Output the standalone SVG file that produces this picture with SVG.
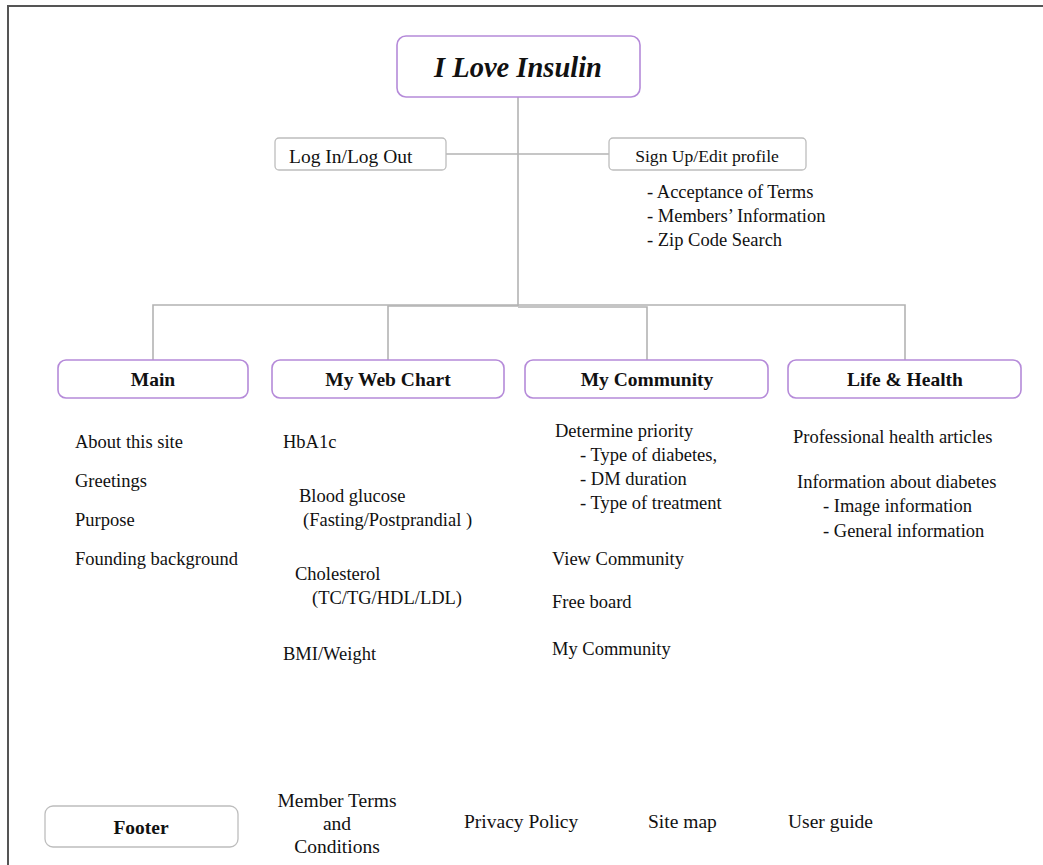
<svg xmlns="http://www.w3.org/2000/svg" width="1043" height="865" viewBox="0 0 1043 865">
<style>
text{font-family:"Liberation Serif","Times New Roman",serif;fill:#111;}
.t{font-size:18.5px;}
.b{font-size:19.5px;font-weight:bold;}
.f{font-size:19.5px;}
.pbox{fill:#fff;stroke:#b58ad9;stroke-width:1.6;}
.gbox{fill:#fff;stroke:#bdbdbd;stroke-width:1.3;}
.conn{fill:none;stroke:#b3b3b3;stroke-width:1.6;}
</style>
<path d="M8 870 V6 H1050" fill="none" stroke="#555" stroke-width="2"/>
<g id="connectors">
<path class="conn" d="M518 97 V306"/>
<path class="conn" d="M446 154 H609"/>
<path class="conn" d="M153 360 V305 H905 V360"/>
<path class="conn" d="M388 360 V306 H518"/>
<path class="conn" d="M518 307 H647 V360"/>
</g>
<g id="title">
<rect class="pbox" x="397" y="36" width="243" height="61" rx="9"/>
<text x="518" y="77" text-anchor="middle" style="font-size:28.5px;font-weight:bold;font-style:italic">I Love Insulin</text>
</g>
<g id="login">
<rect class="gbox" x="275" y="138" width="171" height="32" rx="4"/>
<text class="t" x="289" y="163" style="font-size:19.5px">Log In/Log Out</text>
</g>
<g id="signup">
<rect class="gbox" x="609" y="138" width="197" height="32" rx="4"/>
<text x="707" y="162" text-anchor="middle" style="font-size:17.6px">Sign Up/Edit profile</text>
<text class="t" x="647" y="198">- Acceptance of Terms</text>
<text class="t" x="647" y="222">- Members’ Information</text>
<text class="t" x="647" y="246">- Zip Code Search</text>
</g>
<g id="main">
<rect class="pbox" x="58" y="360" width="190" height="38" rx="8"/>
<text class="b" x="153" y="386" text-anchor="middle">Main</text>
<text class="t" x="75" y="448">About this site</text>
<text class="t" x="75" y="487">Greetings</text>
<text class="t" x="75" y="526">Purpose</text>
<text class="t" x="75" y="565">Founding background</text>
</g>
<g id="webchart">
<rect class="pbox" x="272" y="360" width="232" height="38" rx="8"/>
<text class="b" x="388" y="386" text-anchor="middle">My Web Chart</text>
<text class="t" x="283" y="448">HbA1c</text>
<text class="t" x="299" y="502">Blood glucose</text>
<text class="t" x="303" y="526">(Fasting/Postprandial )</text>
<text class="t" x="295" y="580">Cholesterol</text>
<text class="t" x="312" y="604">(TC/TG/HDL/LDL)</text>
<text class="t" x="283" y="660">BMI/Weight</text>
</g>
<g id="community">
<rect class="pbox" x="525" y="360" width="243" height="38" rx="8"/>
<text class="b" x="647" y="386" text-anchor="middle">My Community</text>
<text class="t" x="555" y="437">Determine priority</text>
<text class="t" x="580" y="461">- Type of diabetes,</text>
<text class="t" x="580" y="485">- DM duration</text>
<text class="t" x="580" y="509">- Type of treatment</text>
<text class="t" x="552" y="565">View Community</text>
<text class="t" x="552" y="608">Free board</text>
<text class="t" x="552" y="655">My Community</text>
</g>
<g id="lifehealth">
<rect class="pbox" x="788" y="360" width="233" height="38" rx="8"/>
<text class="b" x="905" y="386" text-anchor="middle">Life &amp; Health</text>
<text class="t" x="793" y="443">Professional health articles</text>
<text class="t" x="797" y="488">Information about diabetes</text>
<text class="t" x="823" y="512">-  Image information</text>
<text class="t" x="823" y="537">-  General information</text>
</g>
<g id="footer">
<rect class="gbox" x="45" y="806" width="193" height="41" rx="8"/>
<text class="b" x="141" y="834" text-anchor="middle">Footer</text>
<text class="f" x="337" y="807" text-anchor="middle">Member Terms</text>
<text class="f" x="337" y="830" text-anchor="middle">and</text>
<text class="f" x="337" y="853" text-anchor="middle">Conditions</text>
<text class="f" x="464" y="828">Privacy Policy</text>
<text class="f" x="648" y="828">Site map</text>
<text class="f" x="788" y="828">User guide</text>
</g>
</svg>
